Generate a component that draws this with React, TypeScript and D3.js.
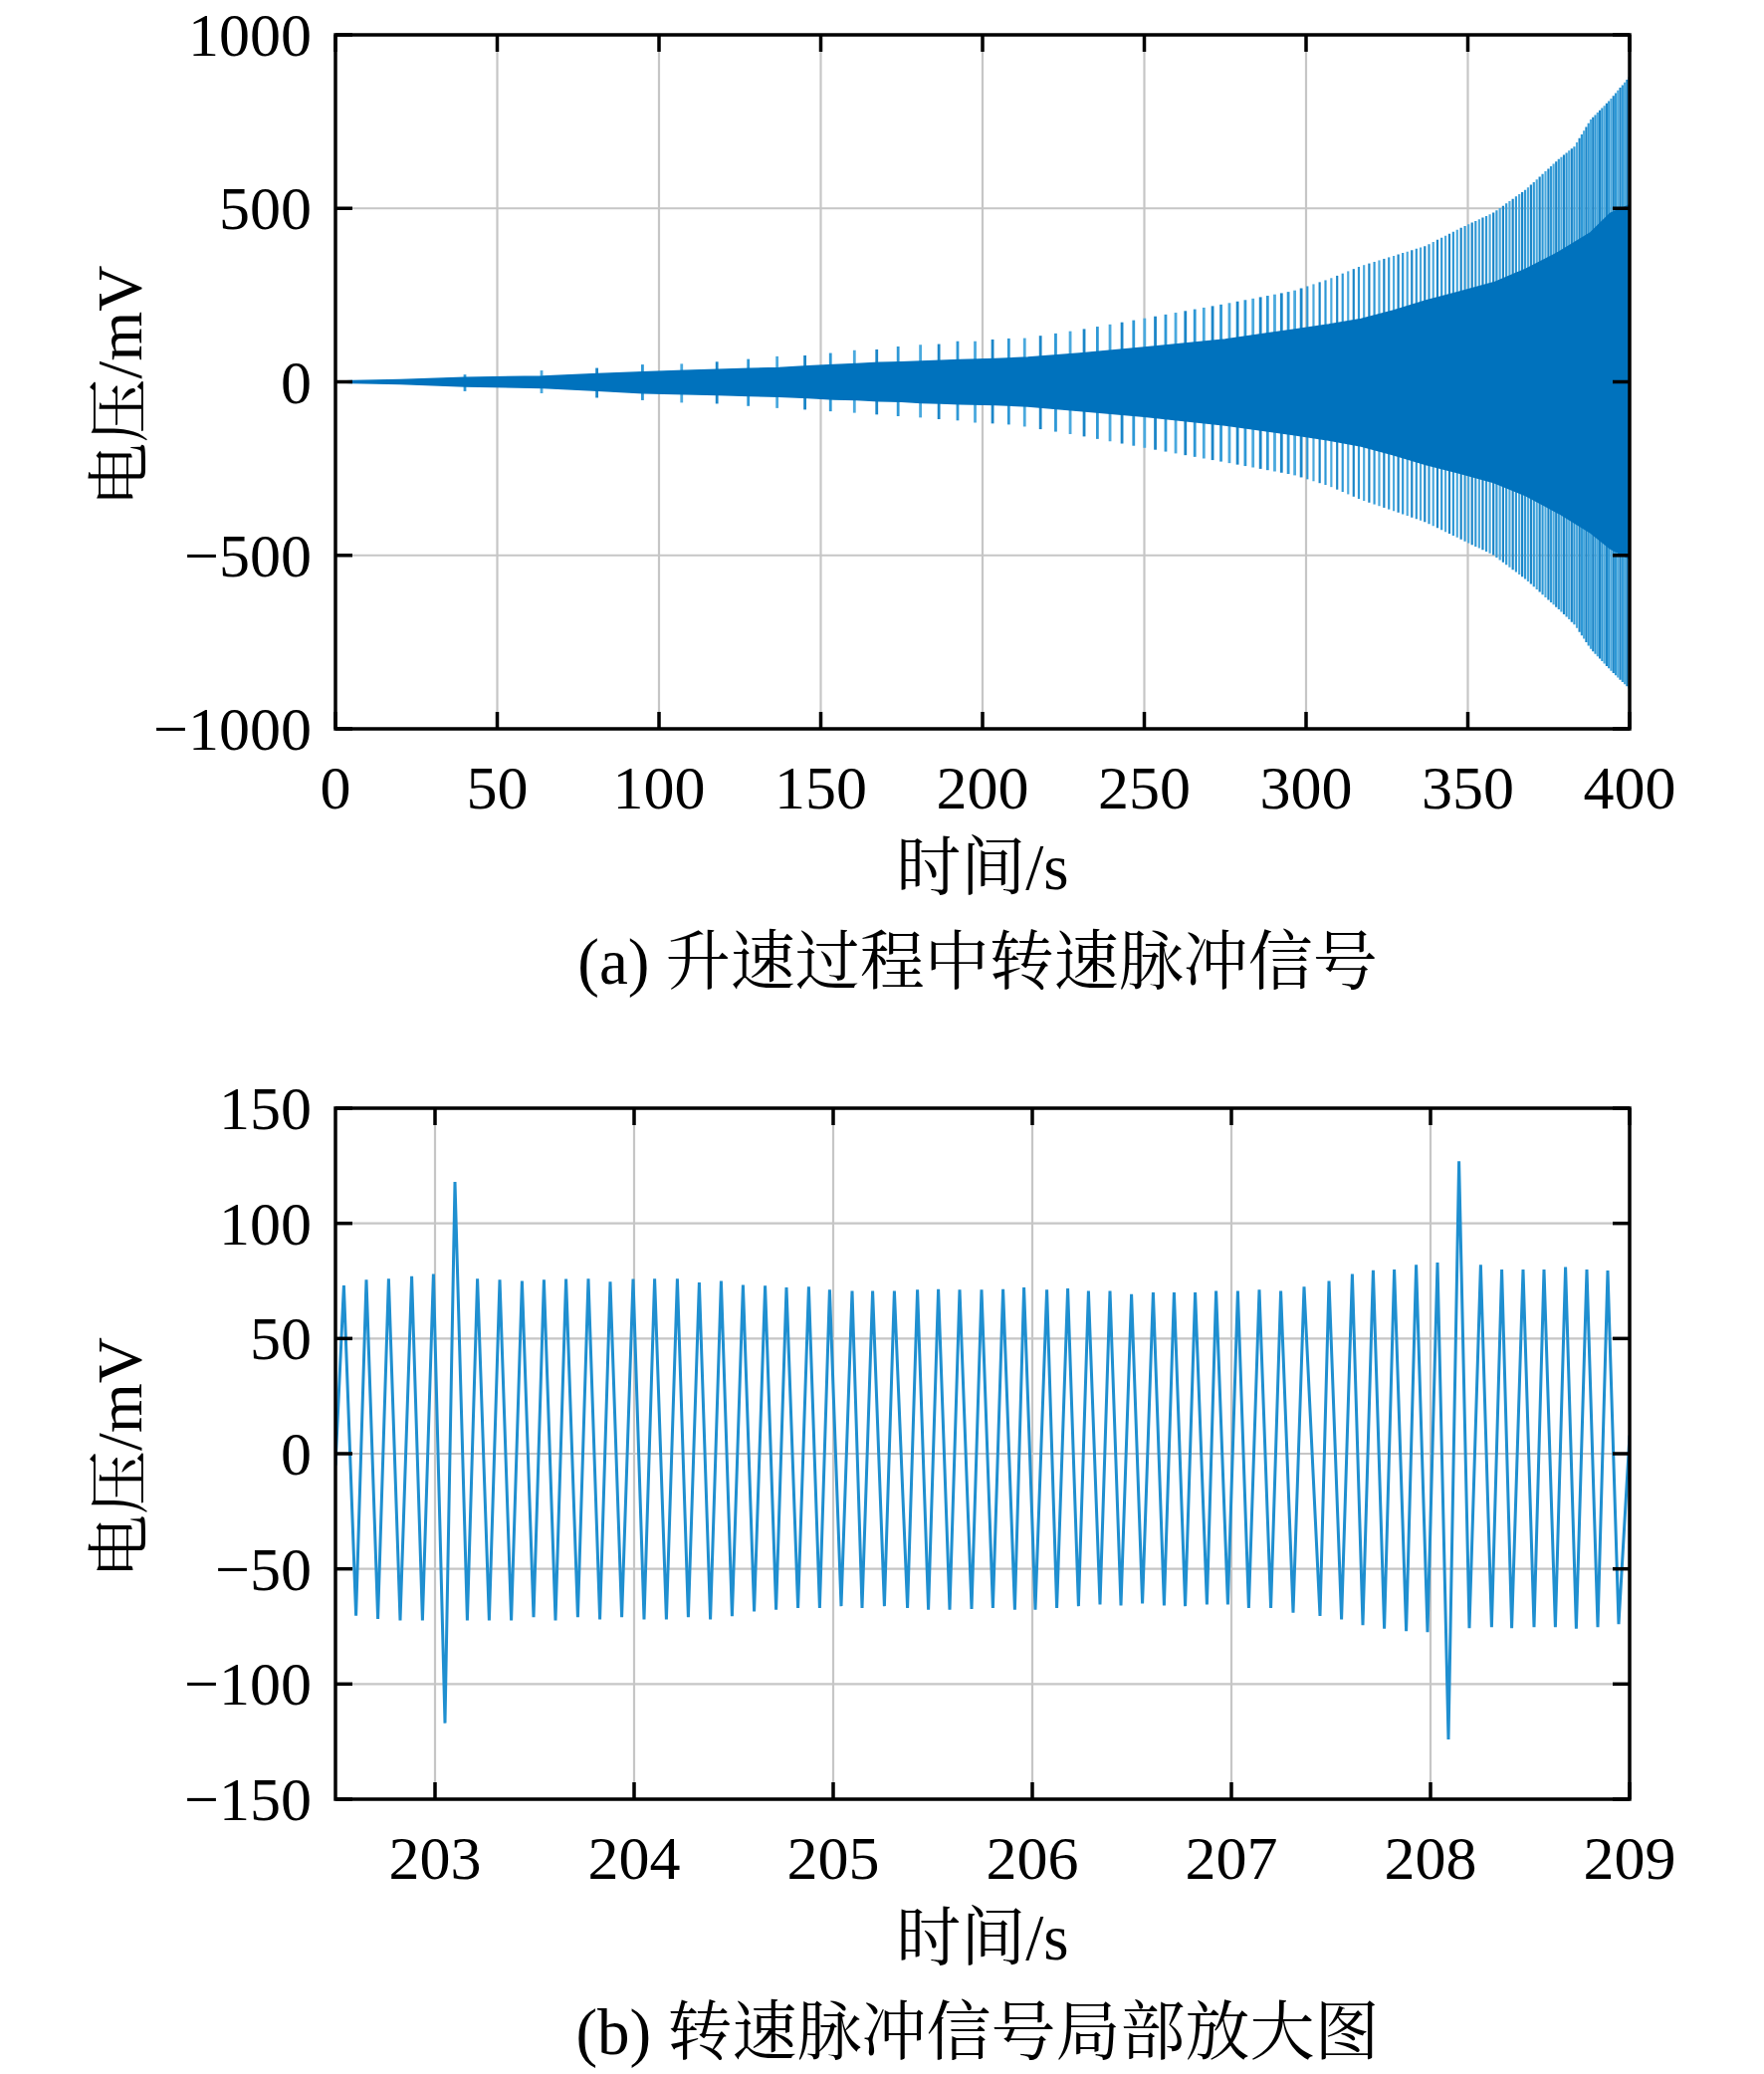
import React from 'react';
import * as d3 from 'd3';

// ---------- Panel (a): ramp-up speed pulse signal ----------
const aXTicks = [0, 50, 100, 150, 200, 250, 300, 350, 400];
const aYTicks = [-1000, -500, 0, 500, 1000];
const aYLabels = ['\u22121000', '\u2212500', '0', '500', '1000'];

// dense carrier envelope (solid core)
const coreT = [0, 5, 20, 40, 64, 81, 95, 108, 118, 128, 137, 146, 154, 161, 168, 175, 181, 187, 193, 204, 214, 230, 250, 275, 296, 307, 317, 327, 337, 347, 358, 368, 378, 388, 394, 400];
const coreUpper = [1, 3, 6, 12, 16, 23, 28, 32, 35, 38, 40, 45, 49, 52, 55, 57, 59, 61, 63, 66, 70, 82, 99, 122, 150, 165, 181, 205, 234, 258, 286, 325, 373, 430, 485, 510];
const coreLower = [-1, -3, -6, -13, -17, -25, -32, -35, -37, -40, -42, -46, -50, -52, -55, -57, -60, -62, -64, -66, -70, -83, -100, -125, -152, -168, -185, -210, -238, -262, -290, -328, -378, -435, -480, -510];

// once-per-revolution marker pulse envelope
const spikeEnvT = [40, 64, 81, 95, 107, 118, 128, 137, 145, 153, 160, 167, 174, 181, 187, 192, 198, 203, 208, 213, 230, 250, 275, 296, 307, 317, 327, 337, 347, 358, 368, 378, 383, 388, 394, 400];
const spikeUpper = [21, 33, 40, 50, 52, 58, 66, 74, 76, 83, 91, 93, 102, 107, 109, 117, 117, 122, 125, 126, 150, 183, 225, 262, 296, 334, 363, 392, 440, 488, 555, 641, 679, 756, 813, 880];
const spikeLower = [-27, -33, -46, -53, -60, -63, -70, -76, -80, -85, -89, -94, -99, -103, -108, -111, -118, -120, -123, -129, -155, -190, -232, -268, -300, -340, -372, -405, -450, -500, -570, -655, -700, -770, -830, -885];

// marker pulse times (s)
const spikeTimes = [
  40.0, 63.7, 80.8, 94.9, 107.0, 117.9, 127.6, 136.5, 145.1, 153.0, 160.4, 167.3, 173.9, 180.8, 186.5, 192.3, 197.7, 203.1, 208.1, 213.0,
  217.9, 222.6, 227.1, 231.4, 235.5, 239.4, 243.1, 246.7, 250.1, 253.4, 256.6, 259.7, 262.7, 265.6, 268.4, 271.1, 273.7, 276.3, 278.8, 281.2,
  283.6, 285.9, 288.1, 290.3, 292.4, 294.5, 296.5, 298.5, 300.4, 302.3, 304.2, 306.0, 307.8, 309.6, 311.3, 313.0, 314.7, 316.3, 317.9, 319.5,
  321.1, 322.6, 324.1, 325.6, 327.1, 328.5, 329.9, 331.3, 332.7, 334.1, 335.4, 336.7, 338.0, 339.3, 340.6, 341.9, 343.1, 344.3, 345.5, 346.7,
  347.9, 349.1, 350.2, 351.3, 352.4, 353.5, 354.6, 355.7, 356.8, 357.9, 358.9, 359.9, 360.9, 361.9, 362.9, 363.9, 364.9, 365.9, 366.8, 367.7,
  368.6, 369.5, 370.4, 371.3, 372.2, 373.1, 374.0, 374.9, 375.7, 376.5, 377.3, 378.1, 378.9, 379.7, 380.5, 381.3, 382.1, 382.9, 383.7, 384.5,
  385.2, 385.9, 386.6, 387.3, 388.0, 388.7, 389.4, 390.1, 390.8, 391.5, 392.2, 392.9, 393.6, 394.3, 395.0, 395.7, 396.4, 397.1, 397.8, 398.5,
  399.2, 399.9,
];

// ---------- Panel (b): zoomed pulse signal ----------
const bXTicks = [203, 204, 205, 206, 207, 208, 209];
const bYTicks = [-150, -100, -50, 0, 50, 100, 150];
const bYLabels = ['\u2212150', '\u2212100', '\u221250', '0', '50', '100', '150'];
const bDomain = [202.5, 209];

const peakT = [
  202.542, 202.655, 202.767, 202.883, 202.992, 203.100, 203.213, 203.325, 203.437, 203.547, 203.658, 203.770, 203.880, 203.995, 204.103,
  204.217, 204.327, 204.437, 204.547, 204.658, 204.765, 204.877, 204.982, 205.095, 205.198, 205.307, 205.423, 205.528, 205.635, 205.745,
  205.853, 205.958, 206.073, 206.178, 206.282, 206.390, 206.498, 206.607, 206.712, 206.818, 206.923, 207.032, 207.140, 207.248, 207.365,
  207.490, 207.607, 207.712, 207.818, 207.928, 208.035, 208.143, 208.252, 208.358, 208.465, 208.570, 208.678, 208.785, 208.890,
];
const peakV = [
  73, 75.5, 76, 77, 78, 118, 76, 75.5, 75, 75.5, 75.8, 76, 74.7, 75.8, 76,
  76, 74.3, 75, 73.3, 72.9, 72.2, 72.5, 71.2, 70.7, 70.7, 70.7, 71.2, 71.4, 71.2, 71.2,
  71.4, 72.2, 71.2, 71.7, 70.7, 70.7, 69.3, 70, 70, 70, 70.7, 70.7, 71.2, 70.7, 72.5,
  75, 78, 79.6, 80, 82, 83, 127, 82, 80, 80, 80, 81, 80, 79.5,
];
const troughT = [
  202.603, 202.713, 202.825, 202.937, 203.050, 203.162, 203.272, 203.383, 203.495, 203.605, 203.717, 203.828, 203.938, 204.050, 204.162,
  204.272, 204.383, 204.492, 204.603, 204.713, 204.823, 204.932, 205.040, 205.145, 205.257, 205.373, 205.478, 205.585, 205.695, 205.802,
  205.912, 206.015, 206.123, 206.232, 206.340, 206.445, 206.553, 206.662, 206.768, 206.877, 206.982, 207.087, 207.198, 207.310, 207.445,
  207.553, 207.660, 207.768, 207.878, 207.985, 208.090, 208.195, 208.307, 208.408, 208.520, 208.627, 208.732, 208.840, 208.945,
];
const troughV = [
  -70.3, -71.7, -72.4, -72.4, -117, -72.4, -72.4, -72.4, -71, -72.4, -71, -72, -71, -72, -72,
  -71, -72, -70.6, -68.5, -67.7, -67, -67, -66.2, -67, -66.2, -67, -67.7, -67.7, -67.4, -67,
  -67.7, -67.7, -67, -66.2, -65.5, -65.9, -65, -65.9, -66.2, -65.5, -65.5, -67, -67, -69, -70.4,
  -72, -74.4, -76, -77, -77.5, -124, -75.7, -75.3, -75.7, -75.3, -75.3, -76, -75.3, -74,
];
const bStart: [number, number] = [202.5, -5];
const bEnd: [number, number] = [209, 8];

// ---------- layout ----------
const W = 1772;
const H = 2083;
const L = 337;
const R = 1637;
const A_TOP = 35;
const A_BOT = 732;
const B_TOP = 1113;
const B_BOT = 1807;
const SERIF = "'Liberation Serif', 'Times New Roman', 'Noto Serif CJK SC', 'Noto Sans CJK SC', serif";
const TICK_FS = 62;
const LABEL_FS = 65;
const GRID = '#c6c6c6';
const TICK_LEN = 17;
const AXIS_W = 3.5;

type FrameProps = {
  top: number;
  bottom: number;
  x: d3.ScaleLinear<number, number>;
  y: d3.ScaleLinear<number, number>;
  xTicks: number[];
  xLabels: string[];
  yTicks: number[];
  yLabels: string[];
};

function Grid({ top, bottom, x, y, xTicks, yTicks }: FrameProps) {
  return (
    <g>
      {xTicks.filter((t) => x(t) > L + 1 && x(t) < R - 1).map((t) => (
        <line key={'gx' + t} x1={x(t)} x2={x(t)} y1={top} y2={bottom} stroke={GRID} strokeWidth={2.2} />
      ))}
      {yTicks.filter((t) => y(t) > top + 1 && y(t) < bottom - 1).map((t) => (
        <line key={'gy' + t} x1={L} x2={R} y1={y(t)} y2={y(t)} stroke={GRID} strokeWidth={2.2} />
      ))}
    </g>
  );
}

function Frame({ top, bottom, x, y, xTicks, xLabels, yTicks, yLabels }: FrameProps) {
  return (
    <g>
      {xTicks.map((t) => (
        <g key={'tx' + t}>
          <line x1={x(t)} x2={x(t)} y1={bottom} y2={bottom - TICK_LEN} stroke="#000" strokeWidth={AXIS_W} />
          <line x1={x(t)} x2={x(t)} y1={top} y2={top + TICK_LEN} stroke="#000" strokeWidth={AXIS_W} />
        </g>
      ))}
      {yTicks.map((t) => (
        <g key={'ty' + t}>
          <line x1={L} x2={L + TICK_LEN} y1={y(t)} y2={y(t)} stroke="#000" strokeWidth={AXIS_W} />
          <line x1={R} x2={R - TICK_LEN} y1={y(t)} y2={y(t)} stroke="#000" strokeWidth={AXIS_W} />
        </g>
      ))}
      <rect x={L} y={top} width={R - L} height={bottom - top} fill="none" stroke="#000" strokeWidth={AXIS_W} />
      {xTicks.map((t, i) => (
        <text key={'lx' + t} x={x(t)} y={bottom + 80} textAnchor="middle" fontFamily={SERIF} fontSize={TICK_FS} fill="#000">
          {xLabels[i]}
        </text>
      ))}
      {yTicks.map((t, i) => (
        <text key={'ly' + t} x={313} y={y(t) + 21} textAnchor="end" fontFamily={SERIF} fontSize={TICK_FS} fill="#000">
          {yLabels[i]}
        </text>
      ))}
      <text
        transform={`translate(142, ${(top + bottom) / 2 + 4}) rotate(-90)`}
        textAnchor="middle"
        fontFamily={SERIF}
        fontSize={LABEL_FS - 1}
        fill="#000"
      >
        电压/mV
      </text>
      <text x={(L + R) / 2} y={bottom + 161} textAnchor="middle" fontFamily={SERIF} fontSize={LABEL_FS} fill="#000">
        时间/s
      </text>
    </g>
  );
}

export default function App() {
  // panel a scales
  const xa = d3.scaleLinear().domain([0, 400]).range([L, R]);
  const ya = d3.scaleLinear().domain([-1000, 1000]).range([A_BOT, A_TOP]);
  const upEnv = d3.scaleLinear().domain(spikeEnvT).range(spikeUpper).clamp(true);
  const loEnv = d3.scaleLinear().domain(spikeEnvT).range(spikeLower).clamp(true);

  const coreArea = d3
    .area<number>()
    .x((_, i) => xa(coreT[i]))
    .y0((_, i) => ya(coreLower[i]))
    .y1((_, i) => ya(coreUpper[i]))
    .curve(d3.curveLinear);
  const coreD = coreArea(coreT) || '';

  // panel b scales
  const xb = d3.scaleLinear().domain(bDomain).range([L, R]);
  const yb = d3.scaleLinear().domain([-150, 150]).range([B_BOT, B_TOP]);
  const pts: [number, number][] = [bStart];
  peakT.forEach((t, i) => pts.push([t, peakV[i]]));
  troughT.forEach((t, i) => pts.push([t, troughV[i]]));
  pts.push(bEnd);
  pts.sort((a, b) => a[0] - b[0]);
  const lineB = d3
    .line<[number, number]>()
    .x((d) => xb(d[0]))
    .y((d) => yb(d[1]));
  const bD = lineB(pts) || '';

  return (
    <svg
      width={W}
      height={H}
      viewBox={`0 0 ${W} ${H}`}
      style={{ position: 'absolute', left: 0, top: 0, background: '#fff' }}
    >
      <rect x={0} y={0} width={W} height={H} fill="#fff" />
      <defs>
        <clipPath id="clipA">
          <rect x={L} y={A_TOP} width={R - L} height={A_BOT - A_TOP} />
        </clipPath>
        <clipPath id="clipB">
          <rect x={L} y={B_TOP} width={R - L} height={B_BOT - B_TOP} />
        </clipPath>
      </defs>

      {/* Panel (a) */}
      <Grid top={A_TOP} bottom={A_BOT} x={xa} y={ya} xTicks={aXTicks} xLabels={[]} yTicks={aYTicks} yLabels={[]} />
      <g clipPath="url(#clipA)">
        {spikeTimes.map((t, i) => (
          <line
            key={'sp' + i}
            x1={xa(t)}
            x2={xa(t)}
            y1={ya(loEnv(t))}
            y2={ya(upEnv(t))}
            stroke={i % 3 === 1 ? '#4aa9de' : i % 3 === 2 ? '#1b86c8' : '#2e98d6'}
            strokeWidth={t < 300 ? 2.8 : 2.2}
          />
        ))}
        <path d={coreD} fill="#0072BD" stroke="#0072BD" strokeWidth={1.5} />
      </g>
      <Frame
        top={A_TOP}
        bottom={A_BOT}
        x={xa}
        y={ya}
        xTicks={aXTicks}
        xLabels={aXTicks.map(String)}
        yTicks={aYTicks}
        yLabels={aYLabels}
      />
      <text x={(L + R) / 2 - 5} y={A_BOT + 256} textAnchor="middle" fontFamily={SERIF} fontSize={LABEL_FS} fill="#000">
        (a) 升速过程中转速脉冲信号
      </text>

      {/* Panel (b) */}
      <Grid top={B_TOP} bottom={B_BOT} x={xb} y={yb} xTicks={bXTicks} xLabels={[]} yTicks={bYTicks} yLabels={[]} />
      <g clipPath="url(#clipB)">
        <path d={bD} fill="none" stroke="#1f8fd0" strokeWidth={3} strokeLinejoin="miter" strokeMiterlimit={10} />
      </g>
      <Frame
        top={B_TOP}
        bottom={B_BOT}
        x={xb}
        y={yb}
        xTicks={bXTicks}
        xLabels={bXTicks.map(String)}
        yTicks={bYTicks}
        yLabels={bYLabels}
      />
      <text x={(L + R) / 2 - 5} y={B_BOT + 256} textAnchor="middle" fontFamily={SERIF} fontSize={LABEL_FS} fill="#000">
        (b) 转速脉冲信号局部放大图
      </text>
    </svg>
  );
}
